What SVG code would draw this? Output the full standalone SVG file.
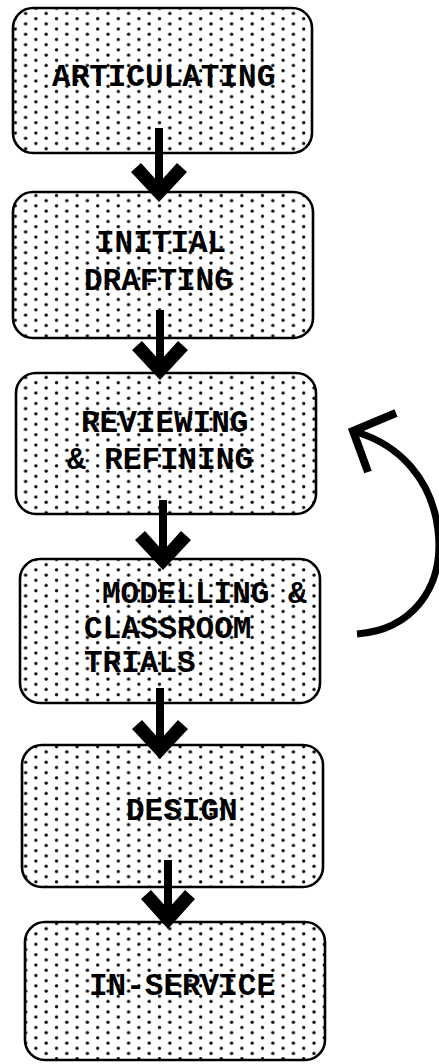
<svg xmlns="http://www.w3.org/2000/svg" width="439" height="1064" viewBox="0 0 439 1064">
<style>
.box{fill:url(#dots);stroke:#000;stroke-width:2.6}
.lbl{font-family:"Liberation Mono","Courier New",monospace;font-weight:bold;font-size:31px;fill:#000}
.head{fill:#000}
.shaft{fill:#000}
.curve{fill:none;stroke:#000;stroke-width:7;stroke-linecap:butt}
.barb{fill:none;stroke:#000;stroke-width:8;stroke-linecap:butt;stroke-linejoin:miter}
</style>
<defs>
<pattern id="dots" patternUnits="userSpaceOnUse" width="20.6" height="10.4">
<rect width="20.6" height="10.4" fill="#fff"/>
<circle cx="5" cy="3" r="1.65" fill="#000"/>
<circle cx="15.3" cy="8.2" r="1.65" fill="#000"/>
</pattern>
</defs>
<rect width="439" height="1064" fill="#fff"/>
<g id="n-articulating">
<rect class="box" x="13" y="8" width="299" height="145" rx="20"/>
<text class="lbl" x="52" y="86">ARTICULATING</text>
</g>
<g id="n-initial-drafting">
<rect class="box" x="13" y="192" width="300" height="146" rx="20"/>
<text class="lbl" x="96" y="252">INITIAL</text>
<text class="lbl" x="84" y="290">DRAFTING</text>
</g>
<g id="n-reviewing">
<rect class="box" x="16" y="373" width="300" height="141" rx="20"/>
<text class="lbl" x="81" y="432">REVIEWING</text>
<text class="lbl" x="67" y="469">&amp; REFINING</text>
</g>
<g id="n-modelling">
<rect class="box" x="20" y="559" width="300" height="144" rx="20"/>
<text class="lbl" x="102" y="603">MODELLING &amp;</text>
<text class="lbl" x="84" y="638">CLASSROOM</text>
<text class="lbl" x="84" y="672">TRIALS</text>
</g>
<g id="n-design">
<rect class="box" x="22" y="745" width="301" height="142" rx="20"/>
<text class="lbl" x="126" y="820">DESIGN</text>
</g>
<g id="n-inservice">
<rect class="box" x="25" y="922" width="300" height="138" rx="20"/>
<text class="lbl" x="89" y="995">IN-SERVICE</text>
</g>
<g id="connectors">
<g id="a1">
<rect class="shaft" x="155" y="128" width="8" height="64"/>
<polygon class="head" points="131,172 141,163 159,183 177,163 187,172 159,202"/>
</g>
<g id="a2">
<rect class="shaft" x="156" y="310" width="8" height="60"/>
<polygon class="head" points="132,350 142,341 160,361 178,341 188,350 160,380"/>
</g>
<g id="a3">
<rect class="shaft" x="159" y="500" width="8" height="60"/>
<polygon class="head" points="135,540 145,531 163,551 181,531 191,540 163,570"/>
</g>
<g id="a4">
<rect class="shaft" x="156" y="688" width="8" height="61"/>
<polygon class="head" points="132,729 142,720 160,740 178,720 188,729 160,759"/>
</g>
<g id="a5">
<rect class="shaft" x="164" y="860" width="8" height="60"/>
<polygon class="head" points="141,899 151,890 168,909 185,890 195,899 168,929"/>
</g>
<g id="loop">
<path class="curve" d="M357,634 C410,630 445,590 438,530 C432,480 400,445 356,432"/>
<polyline class="barb" points="396,413 353,431 368,472"/>
</g>
</g>
</svg>
